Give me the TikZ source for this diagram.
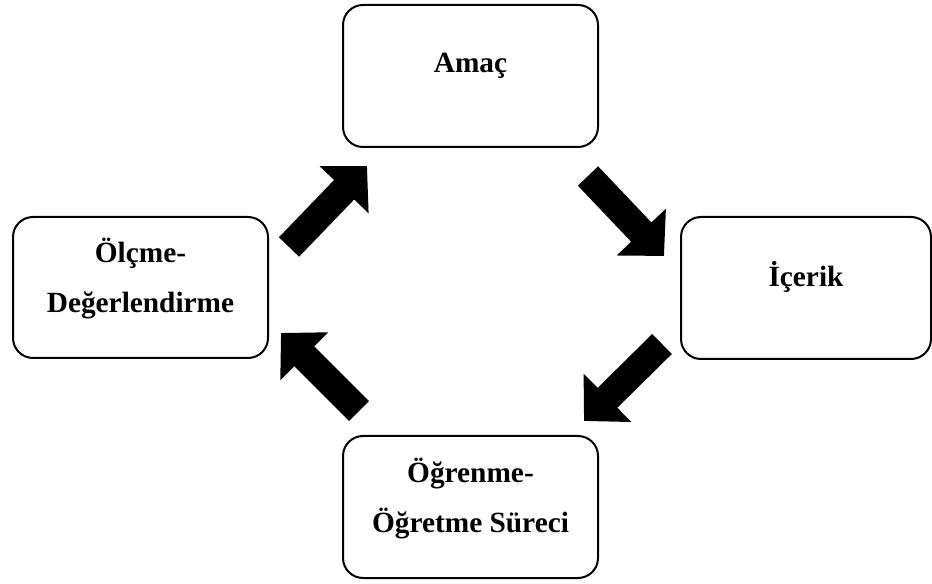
\documentclass[tikz,border=0pt]{standalone}
\usepackage{fontspec}
\setmainfont{Liberation Serif}
\usetikzlibrary{arrows.meta}

\begin{document}
\begin{tikzpicture}[x=0.75pt,y=-0.75pt,
      box/.style={draw,line width=1.5pt,rounded corners=15pt,minimum width=191.25pt,minimum height=106.5pt,inner sep=0pt},
      lbl/.style={align=center,font=\fontsize{22}{37.5}\selectfont\bfseries},
      arrow/.style={line width=21pt,-{Triangle[length=24.75pt,width=49.5pt]}}]
    \useasboundingbox (0,0) rectangle (932,584);
    \node[box] (amac) at (470.5,76) {};
    \node[box,minimum width=187.5pt] (icerik) at (806,288) {};
    \node[box,minimum height=105.75pt] (olcme) at (140.5,287.5) {};
    \node[box] (ogrenme) at (470.5,507) {};
    \node[lbl,anchor=base] (amac-t) at ([yshift=2.25pt]amac.center) {Amaç};
    \node[lbl,anchor=base] (icerik-t) at ([yshift=0.75pt]icerik.center) {İçerik};
    \node[lbl] (olcme-t) at ([yshift=6.6pt]olcme.center) {Ölçme-\\Değerlendirme};
    \node[lbl] (ogrenme-t) at ([yshift=6.2pt]ogrenme.center) {Öğrenme-\\Öğretme Süreci};
    \draw[arrow] ([shift={(20,31)}]olcme.north east) -- ([shift={(25,18)}]amac.south west);
    \draw[arrow] ([shift={(-11,28)}]amac.south east) -- ([shift={(-16,40)}]icerik.north west);
    \draw[arrow] ([shift={(-18,-16)}]icerik.south west) -- ([shift={(-15,-14)}]ogrenme.north east);
    \draw[arrow] ([shift={(17,-24)}]ogrenme.north west) -- ([shift={(12,-26)}]olcme.south east);
\end{tikzpicture}
\end{document}
